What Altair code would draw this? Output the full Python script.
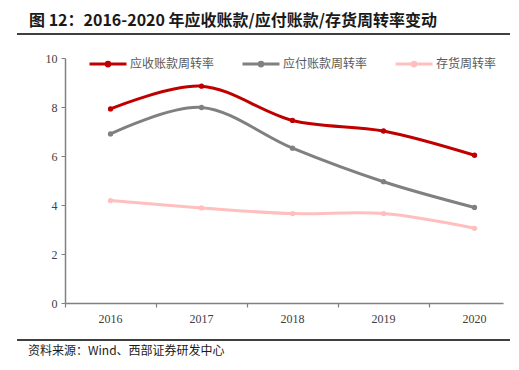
import altair as alt
import pandas as pd

years = [2016, 2017, 2018, 2019, 2020]
series_names = ["应收账款周转率", "应付账款周转率", "存货周转率"]
receivable = [7.92, 8.85, 7.45, 7.02, 6.03]
payable = [6.90, 7.98, 6.32, 4.95, 3.90]
inventory = [4.18, 3.88, 3.65, 3.65, 3.05]
colors = ["#C00000", "#808080", "#FFBFBF"]
title_text = "图 12：2016-2020 年应收账款/应付账款/存货周转率变动"
source_text = "资料来源：Wind、西部证券研发中心"

rows = []
for name, vals in zip(series_names, [receivable, payable, inventory]):
    for y, v in zip(years, vals):
        rows.append({"year": y, "series": name, "value": v})
df = pd.DataFrame(rows)
year_df = pd.DataFrame({"year": years})
bounds = [y - 0.5 for y in years]

W, H = 438, 245
X0, X1 = 2015.5, 2020.313
Y0, Y1 = 0, 10
xscale = alt.Scale(domain=[X0, X1], nice=False, zero=False)
yscale = alt.Scale(domain=[Y0, Y1], nice=False)


def px_to_x(px):
    return X0 + px * (X1 - X0) / W


def py_to_y(py):
    return Y1 - py * (Y1 - Y0) / H


CJK = "Noto Sans CJK SC"
SERIF = "Liberation Serif"

color = alt.Color(
    "series:N",
    scale=alt.Scale(domain=series_names, range=colors),
    legend=alt.Legend(
        title=None,
        orient="none",
        legendX=35,
        legendY=-2,
        direction="horizontal",
        columns=3,
        symbolType="M-3,0H3M-0.3,0A0.3,0.3 0 1,1 0.3,0A0.3,0.3 0 1,1 -0.3,0Z",
        symbolSize=152,
        symbolStrokeWidth=3,
        labelFont=CJK,
        labelFontSize=12,
        labelColor="#595959",
        columnPadding=21,
        gridAlign="all",
        labelOffset=14,
    ),
)

lines = alt.Chart(df).mark_line(
    interpolate="cardinal", tension=0, strokeWidth=3,
    point=alt.OverlayMarkDef(filled=True, size=28),
).encode(
    x=alt.X("year:Q", scale=xscale,
            axis=alt.Axis(values=bounds, labels=False, title=None, ticks=True,
                          tickSize=4, tickColor="#808080", tickWidth=1.2,
                          grid=False, domainColor="#808080", domainWidth=1.5)),
    y=alt.Y("value:Q", scale=yscale,
            axis=alt.Axis(values=list(range(0, 11)), title=None, grid=False,
                          domainColor="#808080", domainWidth=1.5, tickColor="#808080",
                          tickSize=4, labelFont=SERIF, labelFontSize=12,
                          labelColor="#404040", labelPadding=4)),
    color=color,
    order="year:Q",
)

year_labels = alt.Chart(year_df).mark_text(
    font=SERIF, fontSize=12, color="#404040", baseline="middle", align="center"
).encode(x=alt.X("year:Q", scale=xscale), y=alt.value(H + 16),
         text=alt.Text("year:Q", format="d"))

title = alt.Chart(pd.DataFrame({"t": [title_text]})).mark_text(
    font=CJK, fontSize=16, fontWeight="bold", align="left", baseline="middle", color="#1a1a1a"
).encode(text="t:N", x=alt.value(-36), y=alt.value(-37))


def hrule(py):
    d = pd.DataFrame({"rx": [px_to_x(-48), px_to_x(445)], "ry": [py_to_y(py)] * 2})
    return alt.Chart(d).mark_line(color="#000000", strokeWidth=1.3, interpolate="linear").encode(
        x=alt.X("rx:Q", scale=xscale), y=alt.Y("ry:Q", scale=yscale)
    )


top_rule = hrule(-24)
bottom_rule = hrule(282)

source = alt.Chart(pd.DataFrame({"t": [source_text]})).mark_text(
    font=CJK, fontSize=12, align="left", baseline="middle", color="#1a1a1a"
).encode(text="t:N", x=alt.value(-37), y=alt.value(293))

chart = alt.layer(lines, year_labels, title, top_rule, bottom_rule, source).properties(
    width=W, height=H,
    autosize=alt.AutoSizeParams(type="none"),
    padding={"left": 57, "top": 50, "right": 8, "bottom": 57},
).configure_view(stroke=None)

chart.save("out.html", embed_options={"renderer": "svg", "actions": False})
